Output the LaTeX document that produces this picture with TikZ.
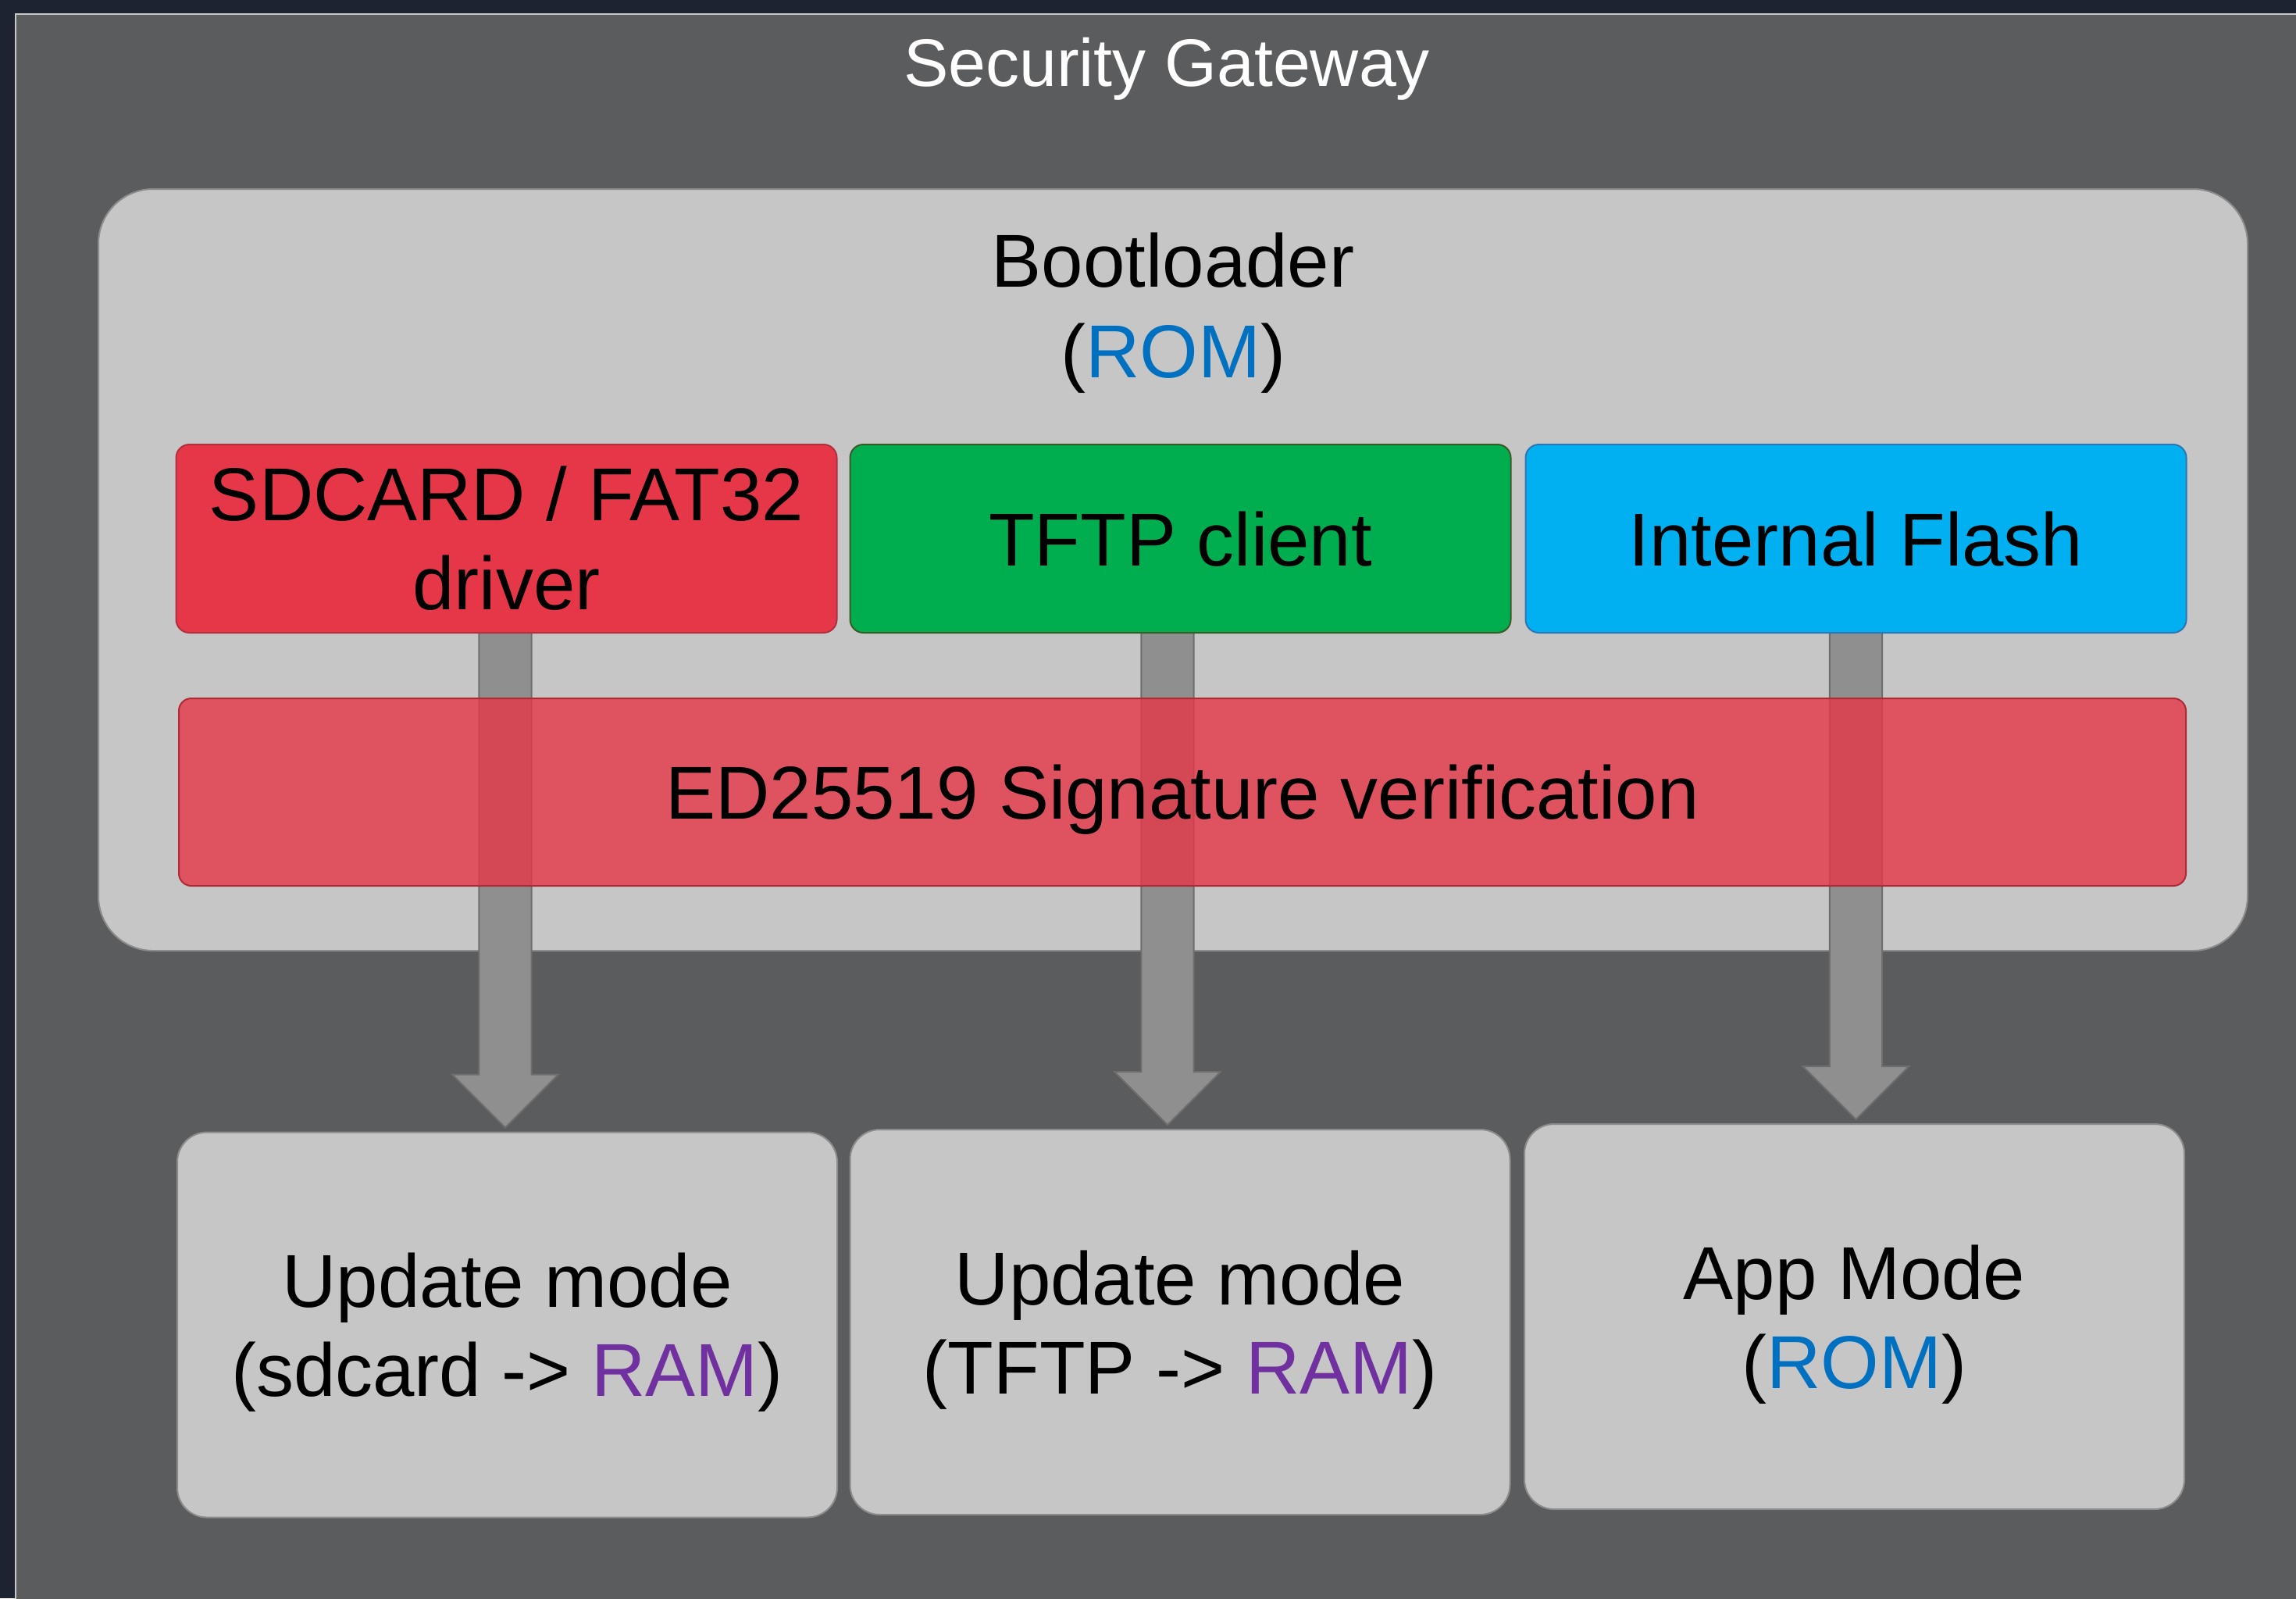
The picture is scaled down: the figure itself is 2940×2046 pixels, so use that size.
\documentclass[tikz,border=0pt]{standalone}
\usepackage{fontspec}
\setmainfont{Liberation Sans}
\usetikzlibrary{calc}
\definecolor{navy}{HTML}{1B2430}
\definecolor{gwfill}{HTML}{5B5C5E}
\definecolor{gwline}{HTML}{C8C8C8}
\definecolor{lightbox}{HTML}{C6C6C6}
\definecolor{lightline}{HTML}{8C8C8C}
\definecolor{sdfill}{HTML}{E63748}
\definecolor{sdline}{HTML}{B0303C}
\definecolor{tffill}{HTML}{00AE50}
\definecolor{tfline}{HTML}{3A5A28}
\definecolor{flfill}{HTML}{00B0F0}
\definecolor{flline}{HTML}{2E75B6}
\definecolor{edline}{HTML}{B02A36}
\definecolor{arrfill}{HTML}{8F8F8F}
\definecolor{arrline}{HTML}{6E6E6E}
\definecolor{romc}{HTML}{0070C0}
\definecolor{ramc}{HTML}{7030A0}
\pgfdeclarelayer{bglayer}
\pgfdeclarelayer{arrlayer}
\pgfsetlayers{bglayer,arrlayer,main}
\newcommand{\lastline}[1]{\raisebox{0pt}[\height][0pt]{#1}}
\newcommand{\gwarrow}[3]{%
  \draw[blockarrow] let \p1=($(#1.south)+(#3,0)$), \p2=(#2.north) in
    (\x1-8.4pt,\y1+1pt) -- (\x1-8.4pt,\y2+18.25pt) -- (\x1-17pt,\y2+18.25pt) --
    (\x1,\y2+1.25pt) -- (\x1+17pt,\y2+18.25pt) -- (\x1+8.4pt,\y2+18.25pt) --
    (\x1+8.4pt,\y1+1pt) -- cycle;}
\begin{document}
\begin{tikzpicture}[x=0.25pt,y=-0.25pt,
  boxfont/.style={font=\fontsize{24}{28.5}\selectfont},
  box/.style={draw, line width=0.5pt, align=center, inner sep=0pt, boxfont, text=black},
  oneline/.style={text depth=0pt},
  topbox/.style={box, rounded corners=4.25pt, minimum width=211.5pt, minimum height=60.25pt},
  modebox/.style={box, fill=lightbox, draw=lightline, rounded corners=9.5pt, minimum width=211.25pt, minimum height=123.25pt},
  blockarrow/.style={fill=arrfill, draw=arrline, line width=0.5pt, line join=miter},
]
\useasboundingbox (0,0) rectangle (2940,2046);
\begin{pgfonlayer}{bglayer}
  \fill[navy] (0,0) rectangle (2940,2046);
  \node[fill=gwfill, draw=gwline, line width=0.5pt, anchor=north west, inner sep=0pt,
        minimum width=740pt, minimum height=520pt] (gw) at (19,17) {};
  \node[text=white, anchor=base, font=\fontsize{21.5}{26}\selectfont, inner sep=0pt] (gwtitle) at (1494,110) {Security Gateway};
  \node[box, fill=lightbox, draw=lightline, rounded corners=17.5pt,
        minimum width=688pt, minimum height=243.75pt] (boot) at (1502,729.5) {};
  \node[boxfont, anchor=base, inner sep=0pt] (boottitle) at (1502,367) {Bootloader};
  \node[boxfont, anchor=base, inner sep=0pt] (bootrom) at (1502,483) {(\textcolor{romc}{ROM})};
\end{pgfonlayer}

\node[topbox, fill=sdfill, draw=sdline] (sd) at (648.5,689.5) {SDCARD / FAT32\\driver};
\node[topbox, oneline, fill=tffill, draw=tfline] (tftp) at (1511.5,689.5) {TFTP client};
\node[topbox, oneline, fill=flfill, draw=flline] (flash) at (2376.5,689.5) {Internal Flash};

\node[box, oneline, fill=sdfill, fill opacity=0.8, text opacity=1, draw=edline, rounded corners=4pt,
      minimum width=642.5pt, minimum height=60pt] (ed) at (1514,1014) {ED25519 Signature verification};

\node[modebox] (up1) at (649.5,1696) {Update mode\\\lastline{(sdcard -> \textcolor{ramc}{RAM})}};
\node[modebox] (up2) at (1511,1692.5) {Update mode\\\lastline{(TFTP -> \textcolor{ramc}{RAM})}};
\node[modebox] (app) at (2374.5,1685.5) {App Mode\\\lastline{(\textcolor{romc}{ROM})}};

\begin{pgfonlayer}{arrlayer}
  \gwarrow{sd}{up1}{-1.5}
  \gwarrow{tftp}{up2}{-16.5}
  \gwarrow{flash}{app}{0}
\end{pgfonlayer}
\end{tikzpicture}
\end{document}
